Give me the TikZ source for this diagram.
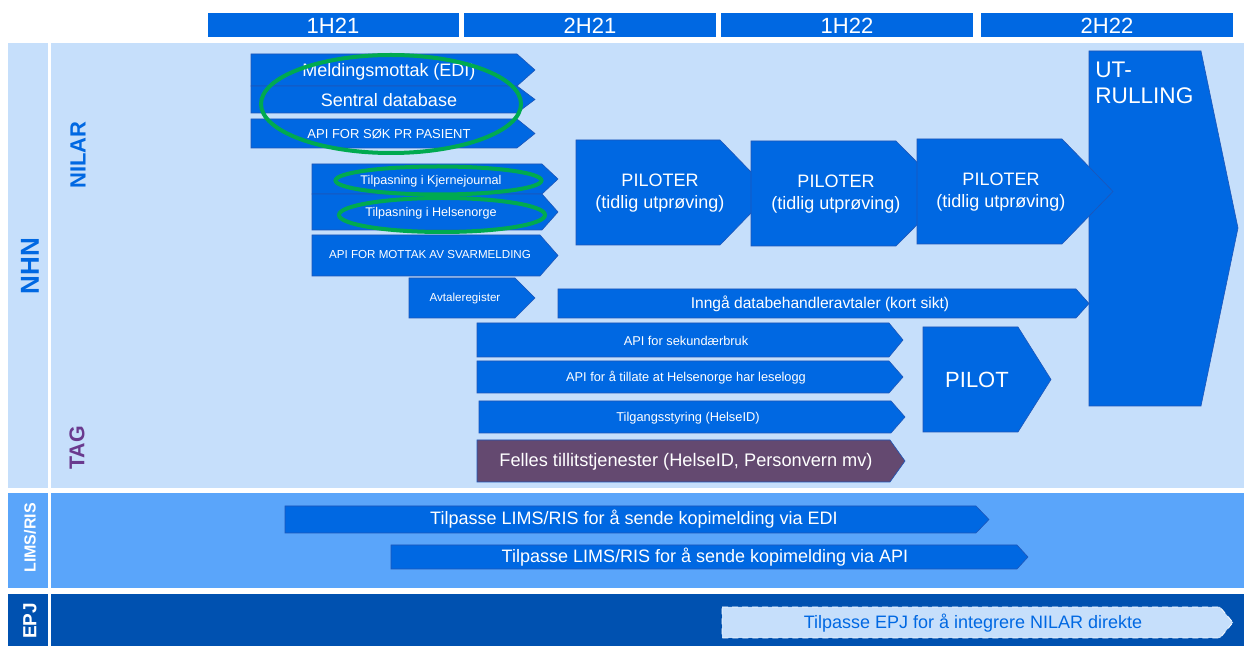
\documentclass[tikz,border=0pt]{standalone}
\usepackage{fontspec}
\setmainfont{Liberation Sans}
\usepackage{tikz}
\definecolor{nhnblue}{RGB}{0,104,226}
\definecolor{nhnedge}{RGB}{30,86,184}
\definecolor{panelsky}{RGB}{198,223,251}
\definecolor{panellims}{RGB}{90,165,250}
\definecolor{panelepj}{RGB}{0,81,176}
\definecolor{tagpurple}{RGB}{100,73,112}
\definecolor{tagtext}{RGB}{106,58,142}
\definecolor{ringgreen}{RGB}{0,170,80}

\begin{document}
\begin{tikzpicture}[x=0.5pt,y=-0.5pt,
  bar/.style={fill=nhnblue,draw=nhnedge,line width=0.3pt},
  ring/.style={draw=ringgreen,line width=2pt},
  txt/.style={white,inner sep=0pt,font=\fontsize{#1}{#1}\selectfont},
  pilottxt/.style={white,inner sep=0pt,align=center,font=\fontsize{9}{11}\selectfont},
  side/.style={rotate=90,inner sep=0pt,font=\bfseries\fontsize{#1}{#1}\selectfont}]
\useasboundingbox (0,0) rectangle (1244,646);
\fill[nhnblue](208,13)rectangle(459,37);
\fill[nhnblue](464,13)rectangle(716,37);
\fill[nhnblue](721,13)rectangle(973,37);
\fill[nhnblue](981,13)rectangle(1233,37);
\node (h1) at (333,26) [txt=11]{1H21};
\node (h2) at (590,26) [txt=11]{2H21};
\node (h3) at (847,26) [txt=11]{1H22};
\node (h4) at (1107,26) [txt=11]{2H22};
\fill[panelsky](8,43)rectangle(48,488);
\fill[panelsky](51,43)rectangle(1244,488);
\fill[panellims](8,493)rectangle(48,588);
\fill[panellims](51,493)rectangle(1244,588);
\fill[panelepj](8,594)rectangle(48,646);
\fill[panelepj](51,594)rectangle(1244,646);
\node (nhn) at (30,266) [side=13][nhnblue]{NHN};
\node (nilar) at (78,155) [side=11][nhnblue]{NILAR};
\node (tag) at (77,448) [side=10.7][tagtext]{TAG};
\node (lims) at (30,538) [side=8][white]{LIMS/RIS};
\node (epj) at (30,621) [side=9.5][white]{EPJ};
\draw[bar](1089,51)--(1201,51)--(1238,228)--(1201,406)--(1089,406)--cycle;
\node (ut) at (1095,70) [txt=11.3][anchor=west]{UT-};
\node (rulling) at (1095,96) [txt=11.3][anchor=west]{RULLING};
\draw[bar](251,54)--(517,54)--(535,70)--(517,86)--(251,86)--cycle;
\node (meld) at (389,72) [txt=9]{Meldingsmottak (EDI)};
\draw[bar](251,86)--(517,86)--(535,99.5)--(517,113)--(251,113)--cycle;
\node (sentral) at (389,100) [txt=9]{Sentral database};
\draw[bar](251,119)--(517,119)--(535,133.5)--(517,148)--(251,148)--cycle;
\node (sok) at (389,134) [txt=6.5]{API FOR SØK PR PASIENT};
\draw[bar](312,164)--(542,164)--(558,179)--(542,194)--(312,194)--cycle;
\node (kjerne) at (431,181) [txt=6.3]{Tilpasning i Kjernejournal};
\draw[bar](312,194)--(542,194)--(558,212)--(542,230)--(312,230)--cycle;
\node (helse) at (431,213) [txt=6.3]{Tilpasning i Helsenorge};
\draw[bar](312,235)--(540,235)--(558,255.5)--(540,276)--(312,276)--cycle;
\node (svar) at (430,255) [txt=5.8]{API FOR MOTTAK AV SVARMELDING};
\draw[bar](409,278)--(515,278)--(535,298)--(515,318)--(409,318)--cycle;
\node (avtale) at (465,299) [txt=5.8]{Avtaleregister};
\draw[bar](576,140)--(720,140)--(771,192.5)--(720,245)--(576,245)--cycle;
\node (pilot1) at (660,193) [pilottxt]{PILOTER\\(tidlig utprøving)};
\draw[bar](751,141)--(896,141)--(948,193.5)--(896,246)--(751,246)--cycle;
\node (pilot2) at (836,194) [pilottxt]{PILOTER\\(tidlig utprøving)};
\draw[bar](917,139)--(1062,139)--(1113,191.5)--(1062,244)--(917,244)--cycle;
\node (pilot3) at (1001,192) [pilottxt]{PILOTER\\(tidlig utprøving)};
\draw[bar](558,289)--(1076,289)--(1089,303.5)--(1076,318)--(558,318)--cycle;
\node (inngaa) at (820,304) [txt=7.8]{Inngå databehandleravtaler (kort sikt)};
\draw[bar](477,323)--(889,323)--(903,340)--(889,357)--(477,357)--cycle;
\node (sekund) at (686,341) [txt=6.4]{API for sekundærbruk};
\draw[bar](477,361)--(889,361)--(903,377)--(889,393)--(477,393)--cycle;
\node (leselogg) at (686,378) [txt=6.4]{API for å tillate at Helsenorge har leselogg};
\draw[bar](479,401)--(891,401)--(905,417)--(891,433)--(479,433)--cycle;
\node (tilgang) at (688,418) [txt=6.4]{Tilgangsstyring (HelseID)};
\draw[bar][fill=tagpurple](477,440)--(890,440)--(905,461)--(890,482)--(477,482)--cycle;
\node (felles) at (686,462) [txt=9.1]{Felles tillitstjenester (HelseID, Personvern mv)};
\draw[bar](923,327)--(1018,327)--(1051,379.5)--(1018,432)--(923,432)--cycle;
\node (pilot) at (977,380) [txt=11]{PILOT};
\draw[bar](285,506)--(976,506)--(989,519.5)--(976,533)--(285,533)--cycle;
\node (limsedi) at (634,519) [txt=9]{Tilpasse LIMS/RIS for å sende kopimelding via EDI};
\draw[bar](391,545)--(1017,545)--(1028,557)--(1017,569)--(391,569)--cycle;
\node (limsapi) at (705,557) [txt=9]{Tilpasse LIMS/RIS for å sende kopimelding via API};
\draw[fill=panelsky][draw=white][densely dashed](722,607)--(1220,607)--(1233,622.5)--(1220,638)--(722,638)--cycle;
\node (epjnilar) at (973,623) [txt=9][nhnblue]{Tilpasse EPJ for å integrere NILAR direkte};
\draw[ring](391,104) ellipse [x radius=130, y radius=49];
\draw[ring](438.5,180.5) ellipse [x radius=103, y radius=14];
\draw[ring](442,215) ellipse [x radius=103, y radius=17];
\end{tikzpicture}
\end{document}
